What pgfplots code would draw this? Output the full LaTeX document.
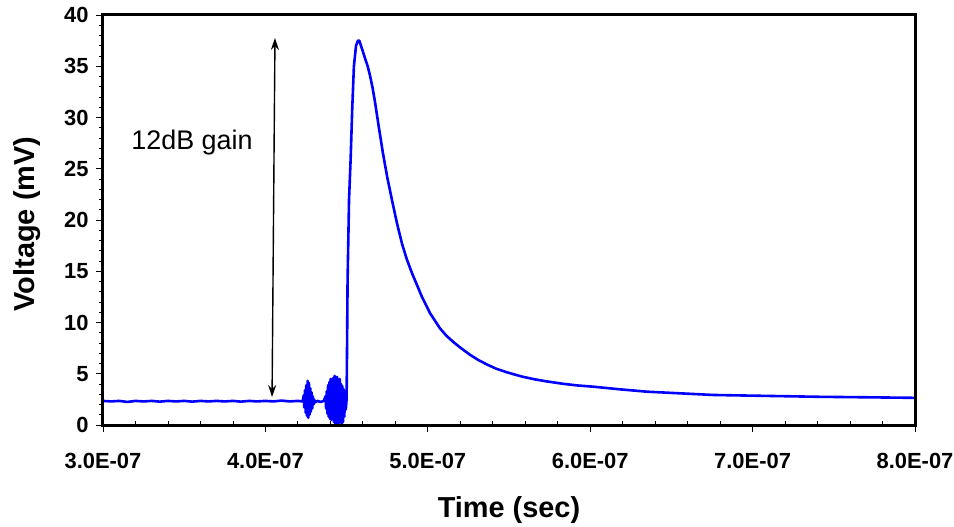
\documentclass[border=0pt]{standalone}
\usepackage{pgfplots}
\pgfplotsset{compat=1.18}
\usetikzlibrary{arrows.meta}
\usepackage{fontspec}
\setmainfont{Liberation Sans}
\begin{document}
\begin{tikzpicture}
\begin{axis}[
  scale only axis,
  width=812bp, height=410bp,
  xmin=3, xmax=8, ymin=0, ymax=40,
  xtick={3,4,5,6,7,8},
  xticklabels={3.0E-07,4.0E-07,5.0E-07,6.0E-07,7.0E-07,8.0E-07},
  ytick={0,5,...,40},
  minor x tick num=4,
  minor y tick num=4,
  tick pos=left,
  tick align=outside,
  major tick length=7bp,
  minor tick length=4bp,
  minor x tick style={yshift=4bp},
  every tick/.style={black, line width=0.8bp},
  /pgf/number format/assume math mode=true,
  ticklabel style={font=\bfseries\fontsize{22}{22}\selectfont},
  xticklabel style={yshift=-18bp},
  yticklabel style={xshift=-4bp},
  xlabel={\bfseries Time (sec)},
  ylabel={\bfseries Voltage (mV)},
  label style={font=\fontsize{29}{29}\selectfont},
  xlabel style={at={([yshift=-92bp]axis description cs:0.5,0)}, anchor=base},
  ylabel style={at={([xshift=-68bp,yshift=-4bp]axis description cs:0,0.5)}, anchor=base},
  clip=false,
]
\addplot[color={rgb,255:red,0;green,0;blue,255}, line width=2.6bp, line join=round] coordinates {
(3.00,2.35)(3.05,2.30)(3.10,2.35)(3.15,2.25)(3.20,2.35)(3.25,2.30)(3.30,2.35)(3.35,2.28)
(3.40,2.35)(3.45,2.30)(3.50,2.35)(3.55,2.28)(3.60,2.35)(3.65,2.30)(3.70,2.35)(3.75,2.30)
(3.80,2.35)(3.85,2.28)(3.90,2.35)(3.95,2.30)(4.00,2.35)(4.05,2.30)(4.10,2.38)(4.15,2.30)
(4.20,2.35)(4.23,2.30)
(4.236,2.9)(4.240,1.7)(4.244,3.4)(4.248,1.2)(4.252,3.9)(4.256,0.9)(4.260,4.3)(4.264,0.7)
(4.268,4.1)(4.272,1.0)(4.276,3.6)(4.280,1.3)(4.284,3.2)(4.288,1.6)(4.292,2.8)(4.296,2.0)
(4.300,2.5)(4.305,2.2)
(4.32,2.35)(4.34,2.25)(4.36,2.35)
(4.370,2.8)(4.374,1.6)(4.378,3.3)(4.382,1.1)(4.386,3.9)(4.390,0.8)(4.394,4.2)(4.398,0.6)
(4.402,4.5)(4.406,0.5)(4.410,4.3)(4.414,0.7)(4.418,4.6)(4.422,0.3)(4.426,4.8)(4.430,0.1)
(4.434,4.4)(4.438,0.0)(4.442,4.7)(4.446,0.0)(4.450,4.2)(4.454,0.2)(4.458,4.5)(4.462,0.4)
(4.466,4.0)(4.470,0.1)(4.474,3.8)(4.478,0.3)(4.482,3.5)(4.486,0.8)(4.490,3.0)(4.495,1.5)
(4.500,2.5)
(4.503,8)(4.506,14)(4.515,22)(4.525,26)(4.535,31)(4.545,35)(4.558,37)(4.570,37.5)
(4.578,37.5)(4.595,36.7)(4.613,35.8)(4.630,35.0)(4.644,34.1)(4.660,32.9)(4.675,31.5)
(4.700,28.9)(4.724,26.5)(4.750,24.2)(4.780,21.9)(4.810,19.7)(4.841,17.7)(4.870,16.2)
(4.903,14.8)(4.935,13.6)(4.964,12.5)(5.014,10.9)(5.075,9.43)(5.115,8.7)(5.155,8.13)
(5.200,7.55)(5.260,6.85)(5.310,6.35)(5.365,5.9)(5.420,5.5)(5.488,5.14)(5.540,4.9)
(5.586,4.7)(5.660,4.45)(5.734,4.25)(5.833,4.02)(5.920,3.86)(6.017,3.74)(6.183,3.48)
(6.350,3.25)(6.553,3.09)(6.756,2.93)(7.046,2.85)(7.415,2.75)(7.723,2.7)(8.000,2.65)
};
\draw[line width=3bp] (rel axis cs:0,0) rectangle (rel axis cs:1,1);
\draw[{Stealth[length=12bp,width=8bp]}-{Stealth[length=12bp,width=8bp]}, line width=1.4bp] (axis cs:4.059,37.76) -- (axis cs:4.041,2.73);
\node[font=\fontsize{27}{27}\selectfont, anchor=base] at (axis cs:3.548,26.83) {12dB gain};
\end{axis}
\pgfresetboundingbox
\path (current axis.south west) ++(-103bp,-102bp) rectangle ++(954bp,527bp);
\end{tikzpicture}
\end{document}
